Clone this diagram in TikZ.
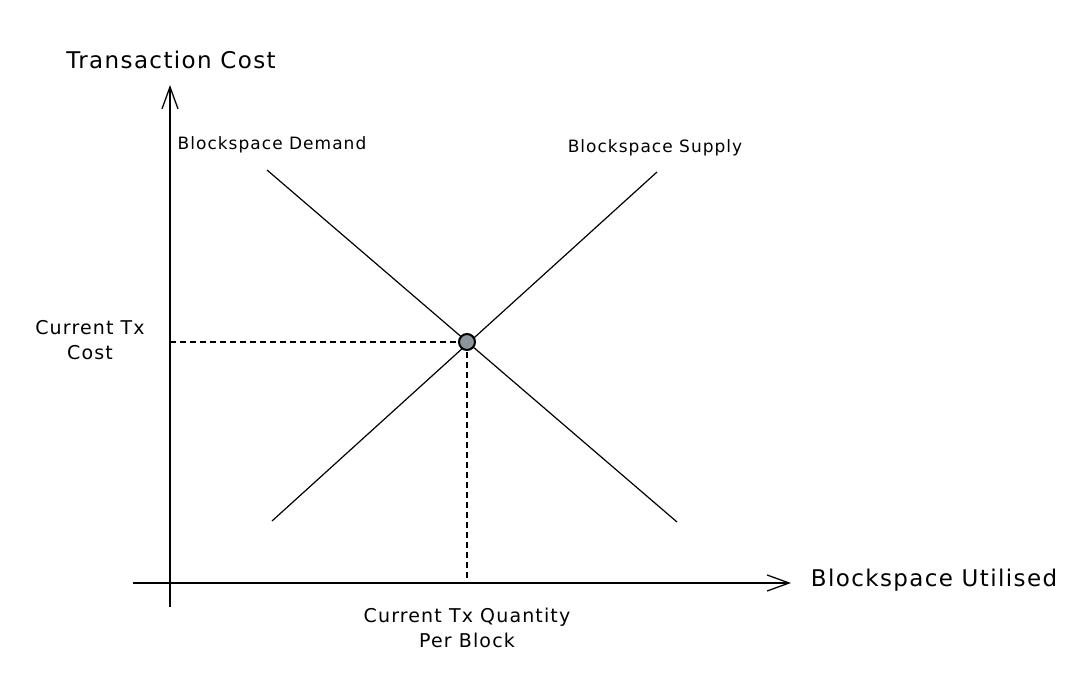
\documentclass[tikz,border=0pt]{standalone}
\usepackage{fontspec}
\setmainfont{DejaVu Sans}[LetterSpace=6]
\usetikzlibrary{arrows.meta}

\tikzset{
  axis/.style={line width=1.3pt, -{Straight Barb[length=22pt,width=16pt,line width=1.3pt]}},
  curve/.style={line width=1.2pt},
  guide/.style={line width=1.2pt, dash pattern={on 6pt off 4pt}},
  label/.style={inner sep=0.75pt, font=\fontsize{17}{26}\selectfont, align=center},
  note/.style={inner sep=0.75pt, font=\fontsize{19}{25}\selectfont, align=center},
  biglabel/.style={inner sep=0.75pt, font=\fontsize{23}{26}\selectfont},
}

\begin{document}
\begin{tikzpicture}[x=1pt,y=1pt,yscale=-1,xscale=1]
\useasboundingbox (0,0) rectangle (1074,677);

%Shape: Axes
\coordinate (ybot) at (170,607);
\coordinate (ytop) at (170,85);
\coordinate (xleft) at (133,583);
\coordinate (xright) at (791,583);
\draw [axis] (ybot) -- (ytop);
\draw [axis] (xleft) -- (xright);

%Curve Lines
\coordinate (d1) at (267,170);
\coordinate (d2) at (677,522);
\coordinate (s1) at (272,521);
\coordinate (s2) at (657,172);
\draw [curve] (d1) -- (d2);
\draw [curve] (s1) -- (s2);

%Straight Lines
\coordinate (qaxis) at (170,342);
\coordinate (paxis) at (467,583);
\draw [guide] (qaxis) -- (467,342);
\draw [guide] (467,342) -- (paxis);

%Shape: Circle
\node (eq) [circle, draw, line width=2pt, fill={rgb,255:red,140;green,148;blue,156}, minimum size=16pt, inner sep=0pt] at (467,342) {};

% Text Node
\node (ylab) [biglabel] at (171,60) {Transaction Cost};
% Text Node
\node (xlab) [biglabel, anchor=west] at (810,580) {Blockspace Utilised};
% Text Node
\node (dlab) [label] at (272,145) {Blockspace Demand};
% Text Node
\node (slab) [label] at (655,148) {Blockspace Supply};
% Text Node
\node (plab) [note] at (90,340) {Current Tx\\Cost};
% Text Node
\node (qlab) [note] at (467,628) {Current Tx Quantity\\Per Block};

\end{tikzpicture}
\end{document}
